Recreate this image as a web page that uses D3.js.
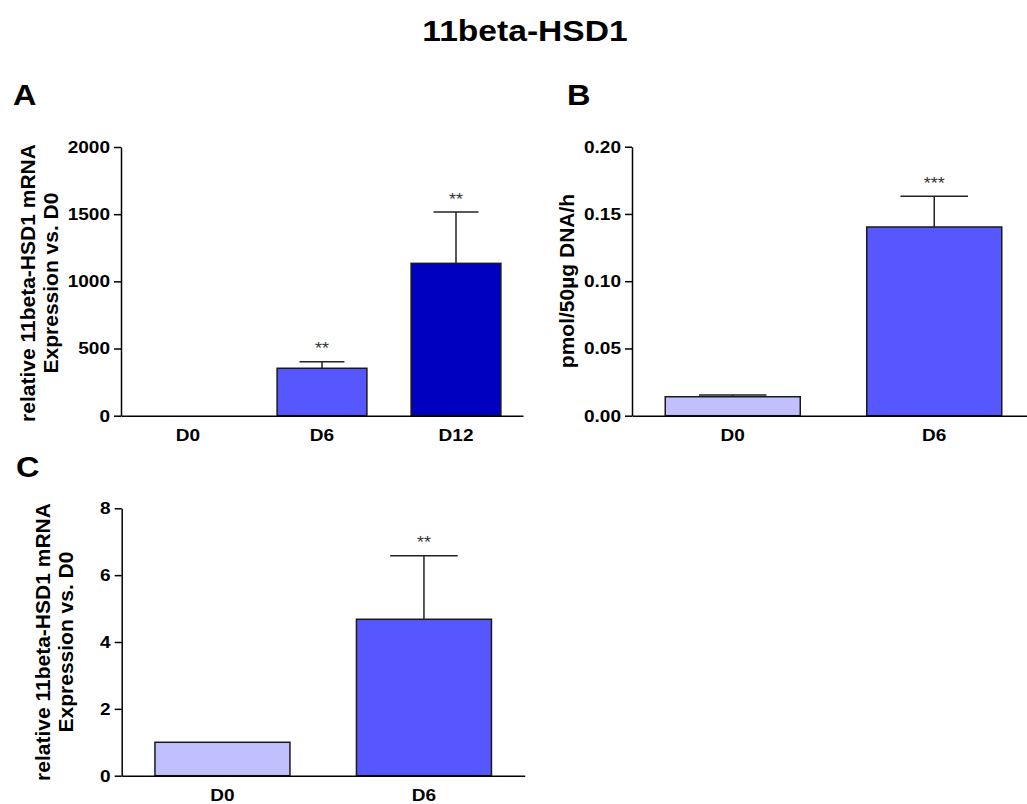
<!doctype html>
<html lang="en">
  <head>
    <meta charset="utf-8">
    <title>11beta-HSD1</title>
    <script src="https://d3js.org/d3.v7.min.js"></script>
    <style>
      body { margin: 0; background: #fff; }
      svg { display: block; }
    </style>
  </head>
  <body>
    <div id="chart"></div>
    <script>

      // panel A: relative mRNA, D0 / D6 / D12
      const catsA = ["D0", "D6", "D12"];
      const meanA = [1, 353, 1134];
      const semA = [0, 49, 382];
      const starsA = ["", "**", "**"];
      const ticksA = [0, 500, 1000, 1500, 2000];

      // panel B: enzyme activity
      const catsB = ["D0", "D6"];
      const meanB = [0.0141, 0.1403];
      const semB = [0.0013, 0.0228];
      const starsB = ["", "***"];
      const ticksB = [0, 0.05, 0.10, 0.15, 0.20];

      // panel C: relative mRNA, D0 / D6
      const catsC = ["D0", "D6"];
      const meanC = [1.0, 4.68];
      const semC = [0, 1.90];
      const starsC = ["", "**"];
      const ticksC = [0, 2, 4, 6, 8];

      const barColor = {D0: "#c0c0ff", D6: "#5757ff", D12: "#0000c0"};

      const font = "Arial, 'Liberation Sans', Helvetica, sans-serif";
      const sx = 1.12; // the figure is a bit wider than tall

      const svg = d3.select("#chart")
        .append("svg")
          .attr("width", 1027)
          .attr("height", 804)
          .style("font-family", font);

      // plain horizontal text, slightly stretched
      function label(x, y, s, size, weight, anchor) {
        return svg.append("text")
          .attr("transform", `translate(${x},${y}) scale(${sx},1)`)
          .attr("text-anchor", anchor || "start")
          .attr("font-size", size)
          .attr("font-weight", weight || "bold")
          .text(s);
      }

      // rotated y-axis title
      function vlabel(x, y, s) {
        return svg.append("text")
          .attr("transform", `translate(${x},${y}) rotate(-90)`)
          .attr("text-anchor", "middle")
          .attr("font-size", 21)
          .attr("font-weight", "bold")
          .text(s);
      }

      function drawPanel(p) {
        const x = d3.scaleBand()
          .domain(p.cats)
          .range([p.left, p.right])
          .paddingInner(0.33)
          .paddingOuter(0.165);
        const y = d3.scaleLinear()
          .domain([0, p.ticks[p.ticks.length - 1]])
          .range([p.bottom, p.top]);
        const g = svg.append("g");
        const bw = x.bandwidth();

        // bars
        g.selectAll("rect.bar")
          .data(p.cats)
          .join("rect")
            .attr("class", "bar")
            .attr("x", d => x(d))
            .attr("width", bw)
            .attr("y", (d, i) => y(p.mean[i]))
            .attr("height", (d, i) => y(0) - y(p.mean[i]))
            .attr("fill", d => barColor[d])
            .attr("stroke", (d, i) => y(0) - y(p.mean[i]) > 1 ? "#1a1a1a" : "none")
            .attr("stroke-width", 1.5);

        // upper error bars only
        const err = p.cats.map((c, i) => ({c: c, m: p.mean[i], e: p.sem[i], s: p.stars[i]}))
          .filter(d => d.e > 0);
        const cx = d => x(d.c) + bw / 2;

        g.selectAll("line.stem")
          .data(err)
          .join("line")
            .attr("x1", cx).attr("x2", cx)
            .attr("y1", d => y(d.m)).attr("y2", d => y(d.m + d.e))
            .attr("stroke", "#222").attr("stroke-width", 1.5);
        g.selectAll("line.cap")
          .data(err)
          .join("line")
            .attr("x1", d => cx(d) - bw / 4).attr("x2", d => cx(d) + bw / 4)
            .attr("y1", d => y(d.m + d.e)).attr("y2", d => y(d.m + d.e))
            .attr("stroke", "#222").attr("stroke-width", 1.5);
        err.forEach(d => {
          label(cx(d), y(d.m + d.e) - 7.5, d.s, 16, "normal", "middle").attr("fill", "#333");
        });

        // y axis
        const ya = g.append("g")
          .attr("transform", `translate(${p.left},0)`)
          .call(d3.axisLeft(y).tickValues(p.ticks).tickFormat(p.fmt)
            .tickSize(7).tickPadding(4).tickSizeOuter(0));

        // x axis
        const xa = g.append("g")
          .attr("transform", `translate(0,${p.bottom})`)
          .call(d3.axisBottom(x).tickSize(0).tickPadding(13).tickSizeOuter(0));

        [ya, xa].forEach(a => {
          a.select(".domain").attr("stroke", "#000").attr("stroke-width", 1.5);
          a.selectAll(".tick line").attr("stroke", "#000").attr("stroke-width", 1.5);
          a.selectAll(".tick text")
            .attr("font-family", font)
            .attr("font-size", 17)
            .attr("font-weight", "bold")
            .attr("fill", "#000");
        });
        ya.selectAll(".tick text")
          .attr("x", -11 / sx)
          .attr("transform", `scale(${sx},1)`);
        xa.selectAll(".tick text")
          .attr("transform", `scale(${sx},1)`);
      }

      drawPanel({cats: catsA, mean: meanA, sem: semA, stars: starsA, ticks: ticksA,
        fmt: d3.format("d"), left: 121, right: 523, top: 147, bottom: 415.7});
      drawPanel({cats: catsB, mean: meanB, sem: semB, stars: starsB, ticks: ticksB,
        fmt: d3.format(".2f"), left: 632, right: 1035, top: 146.7, bottom: 415.7});
      drawPanel({cats: catsC, mean: meanC, sem: semC, stars: starsC, ticks: ticksC,
        fmt: d3.format("d"), left: 121.7, right: 524.7, top: 508.3, bottom: 775.7});

      // axis titles
      vlabel(35, 283, "relative 11beta-HSD1 mRNA");
      vlabel(57.5, 283, "Expression vs. D0");
      vlabel(574, 281, "pmol/50µg DNA/h");
      vlabel(50, 642, "relative 11beta-HSD1 mRNA");
      vlabel(72.5, 642, "Expression vs. D0");

      // title and panel letters
      label(525, 41, "11beta-HSD1", 30, "bold", "middle");
      label(13, 105, "A", 29);
      label(567, 105, "B", 29);
      label(16, 477, "C", 29);

    </script>
  </body>
</html>
